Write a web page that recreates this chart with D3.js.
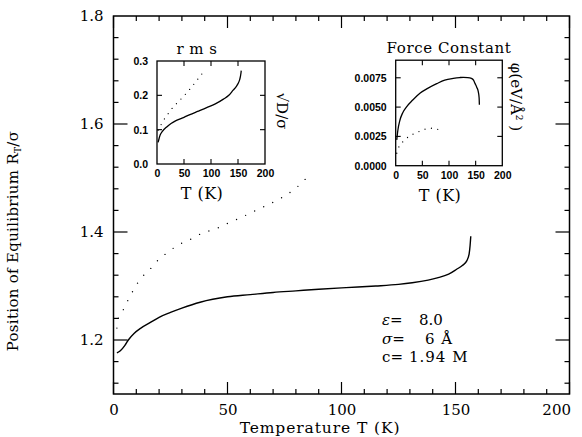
<!DOCTYPE html>
<html><head><meta charset="utf-8">
<script src="https://cdn.jsdelivr.net/npm/d3@7"></script>
<style>body{margin:0;background:#fff}svg{display:block}</style>
</head><body>
<script>
// ---- data ----
const mainSolidT = [1.5,3,5,6.5,9,12,16,20,25,30,38,50,60,70,80,90,102,115,125,131,138,142,147,150.5,153,155,156,156.4,156.7];
const mainSolidR = [1.176,1.180,1.190,1.200,1.212,1.222,1.232,1.242,1.251,1.259,1.270,1.280,1.284,1.288,1.291,1.294,1.297,1.300,1.303,1.306,1.311,1.315,1.322,1.331,1.338,1.347,1.360,1.375,1.392];
const mainDotT = [1.5,2.1,4.3,6.5,8.7,11.6,15.6,19.6,24,28.4,34,39,45,50,55,60,65,69,74,77,81,83,86];
const mainDotR = [1.222,1.24,1.256,1.275,1.292,1.312,1.329,1.348,1.363,1.376,1.387,1.398,1.406,1.416,1.425,1.435,1.445,1.453,1.464,1.472,1.485,1.493,1.506];
const rmsSolidT = [2,4,6,10,18,26,36,50,61,75,92,108,123,133,141,147,150,153,154.5,155.5,156];
const rmsSolidV = [0.063,0.075,0.085,0.095,0.108,0.118,0.127,0.136,0.144,0.153,0.164,0.175,0.189,0.200,0.215,0.226,0.234,0.245,0.255,0.265,0.272];
const rmsDotT = [2,7,12,20,30,40,49,57,64,72,78,83];
const rmsDotV = [0.098,0.113,0.127,0.145,0.166,0.182,0.197,0.211,0.224,0.240,0.252,0.262];
const fcSolidT = [2,4,8,13,20,32,46,60,77,92,108,120,127,135,142,146,149,152,155,156.5,157];
const fcSolidV = [0.0022,0.0030,0.0039,0.0045,0.0050,0.0056,0.0062,0.0066,0.0070,0.0073,0.00745,0.00752,0.00754,0.00752,0.00745,0.0073,0.0070,0.0067,0.0063,0.0058,0.0052];
const fcDotT = [2,5,8,15,24,33,43,54,64,72,78,83];
const fcDotV = [0.00106,0.0015,0.00177,0.0021,0.00247,0.0027,0.0029,0.0031,0.00319,0.0032,0.00312,0.0030];
const mainXTicks = [0,50,100,150,200];
const mainYTicks = [1.2,1.4,1.6,1.8];
const insetXTicks = [0,50,100,150,200];
const rmsYTicks = [0.0,0.1,0.2,0.3];
const fcYTicks = [0.0,0.0025,0.005,0.0075];
const legendSymbols = ["\u03B5","\u03C3","c"];
const legendValues = ["8.0","6 \u00C5","1.94 M"];

const W=582,H=437;
const svg=d3.select("body").append("svg").attr("width",W).attr("height",H);
const serif="'DejaVu Serif', serif";
const sansB="'Liberation Sans', Arial, sans-serif";
const zip=(a,b)=>a.map((d,i)=>[d,b[i]]);

// ---- main plot ----
const x=d3.scaleLinear().domain([0,200]).range([113.5,569.5]);
const y=d3.scaleLinear().domain([1.1,1.8]).range([394,16]);
const g=svg.append("g");
g.append("rect").attr("x",x(0)).attr("y",y(1.8)).attr("width",x(200)-x(0)).attr("height",y(1.1)-y(1.8))
 .attr("fill","none").attr("stroke","#000").attr("stroke-width",1.5);
const xMinor=d3.range(0,201,10), yMinor=d3.range(1.12,1.8,0.04);
function tick(x1,y1,x2,y2,w){g.append("line").attr("x1",x1).attr("y1",y1).attr("x2",x2).attr("y2",y2).attr("stroke","#000").attr("stroke-width",w||1.2);}
xMinor.forEach(t=>{const big=t%50===0;const L=big?12:5;
  tick(x(t),394,x(t),394-L);tick(x(t),16,x(t),16+L);});
yMinor.forEach(v=>{const big=mainYTicks.some(m=>Math.abs(m-v)<1e-6);const L=big?14:5;
  tick(113.5,y(v),113.5+L,y(v));tick(569.5,y(v),569.5-L,y(v));});
const xAxis=d3.axisBottom(x).tickValues(mainXTicks).tickSize(0).tickPadding(10);
const ax=g.append("g").attr("transform","translate(0,394)").call(xAxis);
ax.select(".domain").remove();
ax.selectAll("text").attr("font-family",serif).attr("font-size",15).attr("fill","#000");
ax.selectAll(".tick").filter(d=>d===200).select("text").attr("text-anchor","end").attr("x",1);
const yAxis=d3.axisLeft(y).tickValues(mainYTicks).tickFormat(d3.format(".1f")).tickSize(0).tickPadding(10);
const ay=g.append("g").attr("transform","translate(113.5,0)").call(yAxis);
ay.select(".domain").remove();
ay.selectAll("text").attr("font-family",serif).attr("font-size",15).attr("fill","#000");

const line=d3.line().x(d=>x(d[0])).y(d=>y(d[1])).curve(d3.curveMonotoneX);
g.append("path").attr("d",line(zip(mainSolidT,mainSolidR))).attr("fill","none").attr("stroke","#000").attr("stroke-width",1.4);
g.append("path").attr("d",line(zip(mainDotT,mainDotR))).attr("fill","none").attr("stroke","#000")
 .attr("stroke-width",1.4).attr("stroke-linecap","round").attr("stroke-dasharray","0 10");

svg.append("text").attr("x",320).attr("y",433).attr("text-anchor","middle")
 .attr("font-family",serif).attr("font-size",15.5).attr("letter-spacing",0.9).text("Temperature T (K)");
const yl=svg.append("text").attr("transform","translate(18,241) rotate(-90)").attr("text-anchor","middle")
 .attr("font-family",serif).attr("font-size",15).attr("letter-spacing",0.3);
yl.append("tspan").text("Position of Equilibrium R");
yl.append("tspan").attr("font-size",9).attr("dy",3).text("T");
yl.append("tspan").attr("dy",-3).text("/\u03C3");

// legend
const legX=[419,425,409];
legendSymbols.forEach((s,i)=>{
  const t=svg.append("text").attr("y",325+i*18.5).attr("font-family",serif).attr("font-size",15);
  t.append("tspan").attr("x",382).attr("font-style",i<2?"italic":"normal").text(s);
  t.append("tspan").text("=");
  t.append("tspan").attr("x",legX[i]).attr("letter-spacing",i===0?0:1.0).text(legendValues[i]);
});

// ---- insets ----
function inset(opt){
  const ix=d3.scaleLinear().domain([0,200]).range(opt.xr);
  const iy=d3.scaleLinear().domain(opt.yd).range(opt.yr);
  const ig=svg.append("g");
  ig.append("rect").attr("x",opt.xr[0]).attr("y",opt.yr[1]).attr("width",opt.xr[1]-opt.xr[0]).attr("height",opt.yr[0]-opt.yr[1])
    .attr("fill","#fff").attr("stroke","#000").attr("stroke-width",1.3);
  const tl=(a,b,c,d)=>ig.append("line").attr("x1",a).attr("y1",b).attr("x2",c).attr("y2",d).attr("stroke","#000").attr("stroke-width",1.1);
  [50,100,150].forEach(t=>{tl(ix(t),opt.yr[0],ix(t),opt.yr[0]-5);tl(ix(t),opt.yr[1],ix(t),opt.yr[1]+5);});
  opt.yt.forEach(v=>{ if(iy(v)>opt.yr[1]+1 && iy(v)<opt.yr[0]-1){tl(opt.xr[0],iy(v),opt.xr[0]+5,iy(v));tl(opt.xr[1],iy(v),opt.xr[1]-5,iy(v));}});
  const xa=ig.append("g").attr("transform",`translate(0,${opt.yr[0]})`).call(d3.axisBottom(ix).tickValues(insetXTicks).tickSize(0).tickPadding(6));
  xa.select(".domain").remove();
  xa.selectAll("text").attr("font-family",sansB).attr("font-weight","bold").attr("font-size",10.5).attr("fill","#000");
  const ya=ig.append("g").attr("transform",`translate(${opt.xr[0]},0)`).call(d3.axisLeft(iy).tickValues(opt.yt).tickFormat(d3.format(opt.fmt)).tickSize(0).tickPadding(9));
  ya.select(".domain").remove();
  ya.selectAll("text").attr("font-family",sansB).attr("font-weight","bold").attr("font-size",10.5).attr("fill","#000");
  const ln=d3.line().x(d=>ix(d[0])).y(d=>iy(d[1])).curve(d3.curveMonotoneX);
  ig.append("path").attr("d",ln(opt.solid)).attr("fill","none").attr("stroke","#000").attr("stroke-width",1.3);
  ig.append("path").attr("d",ln(opt.dot)).attr("fill","none").attr("stroke","#000").attr("stroke-width",1.3)
    .attr("stroke-linecap","round").attr("stroke-dasharray","0 6.5");
  ig.append("text").attr("x",opt.tx).attr("y",opt.yr[1]-7).attr("text-anchor","middle")
    .attr("font-family",serif).attr("font-size",15).attr("letter-spacing",opt.tls).text(opt.title);
  ig.append("text").attr("x",(opt.xr[0]+opt.xr[1])/2-9).attr("y",opt.yr[0]+35).attr("text-anchor","middle")
    .attr("font-family",serif).attr("font-size",16).attr("letter-spacing",0.5).text("T (K)");
  const rl=ig.append("text").attr("transform",`translate(${opt.xr[1]+opt.rlx},${opt.rly}) rotate(90)`).attr("text-anchor","middle")
    .attr("font-family",serif).attr("font-size",15);
  opt.rlabel(rl);
}
inset({xr:[157,265],yr:[164,61],yd:[0,0.3],yt:rmsYTicks,fmt:".1f",title:"r m s",tx:197,tls:0.5,
  solid:zip(rmsSolidT,rmsSolidV),dot:zip(rmsDotT,rmsDotV),rly:111,rlx:12,
  rlabel:t=>{t.text("\u221AD/\u03C3");}});
inset({xr:[395.7,502.3],yr:[165.7,60.2],yd:[0,0.009],yt:fcYTicks,fmt:".4f",title:"Force Constant",tx:449,tls:0.6,
  solid:zip(fcSolidT,fcSolidV),dot:zip(fcDotT,fcDotV),rly:97,rlx:9,
  rlabel:t=>{t.append("tspan").text("\u03C6(eV/\u00C5");t.append("tspan").attr("font-size",9).attr("dy",-5).text("2");t.append("tspan").attr("dy",5).text(" )");}});
</script>
</body></html>
